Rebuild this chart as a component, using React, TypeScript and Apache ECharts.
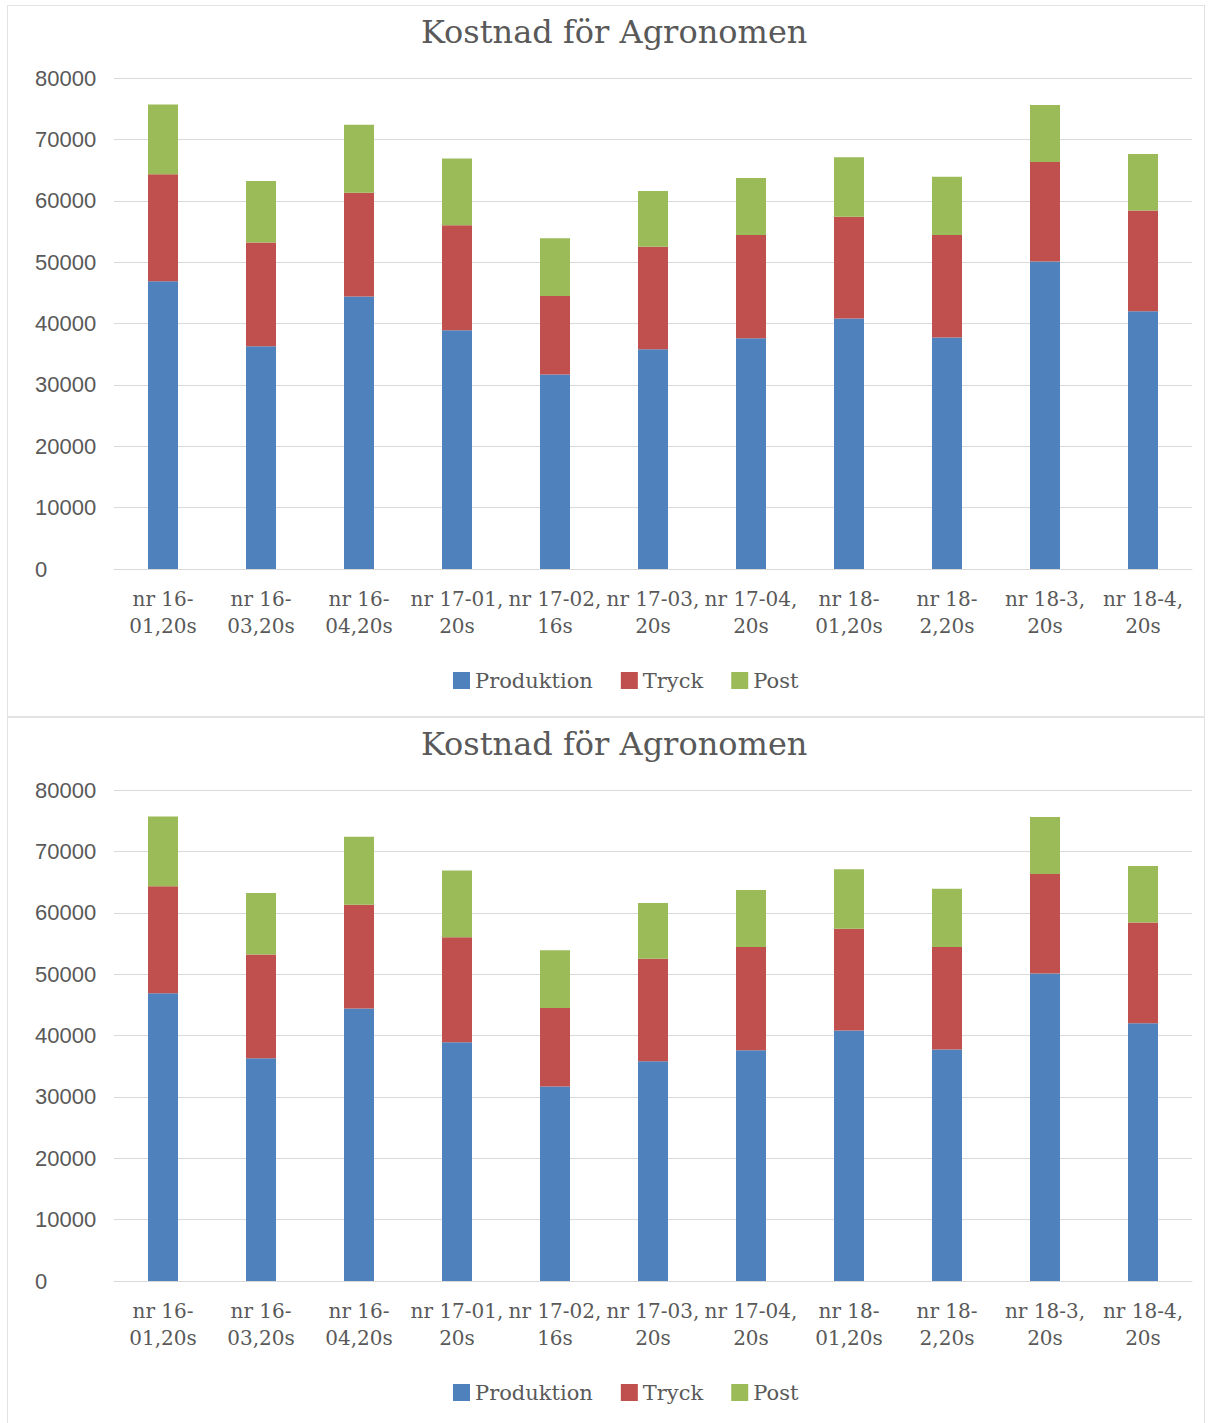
import React, { useEffect, useRef } from "react";
import * as echarts from "echarts";

const title = "Kostnad för Agronomen";
const categories = [
  "nr 16-01,20s",
  "nr 16-03,20s",
  "nr 16-04,20s",
  "nr 17-01, 20s",
  "nr 17-02, 16s",
  "nr 17-03, 20s",
  "nr 17-04, 20s",
  "nr 18-01,20s",
  "nr 18-2,20s",
  "nr 18-3, 20s",
  "nr 18-4, 20s",
];
const produktion = [46900, 36300, 44400, 38900, 31700, 35800, 37600, 40800, 37700, 50100, 42000];
const tryck = [17400, 16900, 16900, 17100, 12800, 16700, 16800, 16600, 16700, 16200, 16400];
const post = [11400, 10000, 11100, 10900, 9400, 9100, 9300, 9700, 9500, 9300, 9200];
const seriesNames = ["Produktion", "Tryck", "Post"];
const colors = ["#4F81BD", "#C0504D", "#9BBB59"];

const TEXT = "#595959";
const GRIDLINE = "#d9d9d9";
const SERIF = "'DejaVu Serif', serif";
const SANS = "'Liberation Sans', sans-serif";

const wrapLabel = (s: string) =>
  s.includes(", ") ? s.replace(", ", ",\n") : s.replace("-", "-\n");

function Chart() {
  const ref = useRef<HTMLDivElement>(null);
  useEffect(() => {
    if (!ref.current) return;
    const chart = echarts.init(ref.current, undefined, { renderer: "svg" });
    const values = [produktion, tryck, post];
    chart.setOption({
      animation: false,
      color: colors,
      title: {
        text: title,
        left: 408,
        top: 5,
        textStyle: { fontFamily: SERIF, fontSize: 32, fontWeight: "normal", color: TEXT },
      },
      legend: {
        top: 659,
        left: 440,
        itemWidth: 17,
        itemHeight: 17,
        itemGap: 28,
        icon: "rect",
        textStyle: { fontFamily: SERIF, fontSize: 21, color: TEXT },
        data: seriesNames,
      },
      grid: { left: 106, top: 72, width: 1078, height: 491, containLabel: false },
      xAxis: {
        type: "category",
        data: categories,
        axisLine: { show: true, lineStyle: { color: GRIDLINE, width: 1 } },
        axisTick: { show: false },
        axisLabel: {
          interval: 0,
          margin: 16,
          formatter: (v: string) => wrapLabel(v),
          fontFamily: SERIF,
          fontSize: 20,
          lineHeight: 27,
          color: TEXT,
        },
      },
      yAxis: {
        type: "value",
        min: 0,
        max: 80000,
        interval: 10000,
        axisLine: { show: false },
        axisTick: { show: false },
        splitLine: { lineStyle: { color: GRIDLINE, width: 1 } },
        axisLabel: {
          align: "left",
          margin: 79,
          formatter: (v: number) => String(v),
          fontFamily: SANS,
          fontSize: 22,
          color: TEXT,
        },
      },
      series: seriesNames.map((name, i) => ({
        name,
        type: "bar",
        stack: "total",
        barWidth: 30,
        data: values[i],
        itemStyle: { color: colors[i] },
      })),
    });
    return () => chart.dispose();
  }, []);
  return <div ref={ref} style={{ width: "100%", height: "100%" }} />;
}

export default function App() {
  const box = (top: number, height: number): React.CSSProperties => ({
    position: "absolute",
    left: 7,
    top,
    width: 1198,
    height,
    boxSizing: "border-box",
    border: "1px solid #e3e3e3",
    background: "#fff",
  });
  return (
    <div style={{ position: "absolute", left: 0, top: 0, width: 1211, height: 1423, background: "#fff" }}>
      <div style={box(5, 712)}>
        <Chart />
      </div>
      <div style={box(717, 712)}>
        <Chart />
      </div>
    </div>
  );
}
